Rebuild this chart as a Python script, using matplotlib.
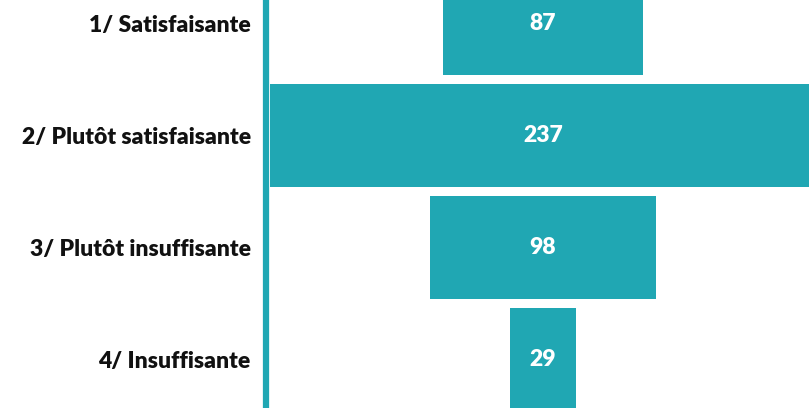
import matplotlib.pyplot as plt

categories = ["1/ Satisfaisante", "2/ Plutôt satisfaisante", "3/ Plutôt insuffisante", "4/ Insuffisante"]
counts = [87, 237, 98, 29]

TEAL = "#20A7B3"

plt.rcParams["font.family"] = ["Lato", "DejaVu Sans"]

fig = plt.figure(figsize=(8.09, 4.08), dpi=100)
ax = fig.add_axes([266 / 809, 0, 1 - 266 / 809, 1])

positions = range(len(categories))
lefts = [-v / 2 for v in counts]
bars = ax.barh(positions, counts, left=lefts, height=0.92, color=TEAL, clip_on=False)

for bar, value in zip(bars, counts):
    ax.text(0, bar.get_y() + bar.get_height() / 2, str(value),
            ha="center", va="center", color="white", fontsize=16.5, fontweight="heavy")

ax.set_xlim(-120.4, 115.7)
ax.set_ylim(3.433, -0.21)
ax.set_yticks(list(positions))
ax.set_yticklabels(categories, fontsize=16.5, fontweight="heavy", color="#111111")
ax.tick_params(axis="y", length=0, pad=11)
ax.set_xticks([])

for side in ["top", "right", "bottom"]:
    ax.spines[side].set_visible(False)
ax.spines["left"].set_color(TEAL)
ax.spines["left"].set_linewidth(4.5)
ax.spines["left"].set_zorder(5)

fig.savefig("out.png", dpi=100)
